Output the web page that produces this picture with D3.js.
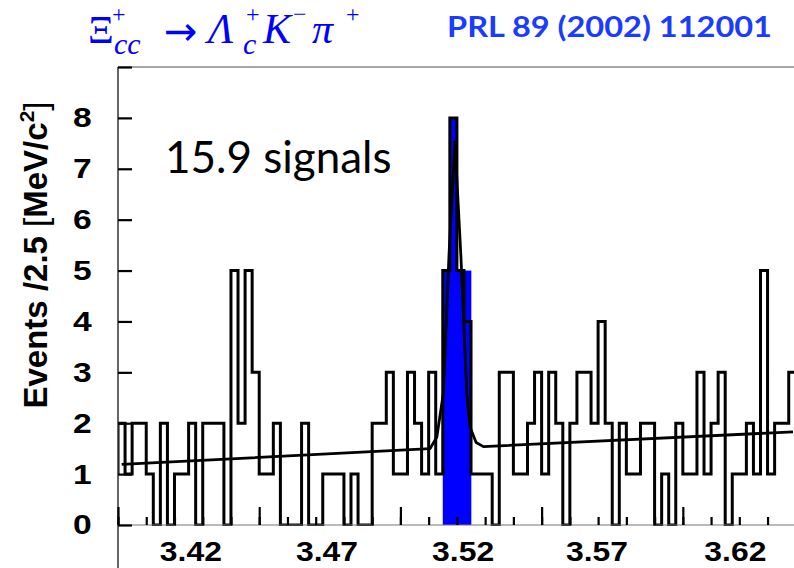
<!DOCTYPE html>
<html>
<head>
<meta charset="utf-8">
<script src="https://cdn.jsdelivr.net/npm/d3@7"></script>
<style>
  body { margin: 0; background: #fff; }
  svg { display: block; }
</style>
</head>
<body>
<script>
const width = 794, height = 568;

// events per 2.5 MeV bin, first bin starts at 3.400 GeV
const binStart = 3.40;
const binWidth = 0.0025;
const countBefore = 1; // bin just left of the frame (cut off)
const counts = [
  2, 1, 2, 2, 1, 0, 2, 0, 1, 1,
  2, 0, 2, 2, 2, 0, 5, 2, 5, 3,
  1, 1, 2, 0, 0, 0, 2, 0, 0, 1,
  1, 1, 0, 1, 0, 0, 2, 2, 3, 1,
  1, 3, 2, 1, 3, 1, 5, 8, 5, 4,
  1, 1, 1, 0, 3, 3, 1, 1, 2, 3,
  1, 3, 2, 0, 2, 3, 3, 2, 4, 2,
  0, 2, 1, 1, 2, 2, 0, 1, 0, 2,
  1, 1, 3, 1, 2, 3, 0, 1, 1, 2,
  1, 5, 1, 2, 2, 3
];

// signal region (blue)
const signalStart = 3.515;
const signalCounts = [5, 8, 5, 5];

// fit curve
const fitMass   = [3.4013, 3.5105, 3.5129, 3.5152, 3.5172, 3.5193, 3.5214, 3.5235, 3.5246, 3.5268, 3.5294, 3.6390];
const fitEvents = [1.19,   1.50,   1.73,   2.59,   5.30,   7.53,   5.30,   2.59,   1.93,   1.62,   1.54,   1.83];

const yTickValues = [0, 1, 2, 3, 4, 5, 6, 7, 8, 9];
const yTickLabels = ["0", "1", "2", "3", "4", "5", "6", "7", "8", ""];
// the slide's x labels sit a bit off the frame ticks
const xLabels   = ["3.42", "3.47", "3.52", "3.57", "3.62"];
const xLabelPos = [3.4258, 3.4740, 3.5222, 3.5696, 3.6186];

const blue = "#0000ff";
const textBlue = "#1a3cff";

const x = d3.scaleLinear().domain([3.40, 3.64]).range([118, 795.8]);
const y = d3.scaleLinear().domain([0, 9]).range([525, 67]);

const svg = d3.select("body").append("svg")
  .attr("width", width)
  .attr("height", height);

svg.append("rect").attr("width", width).attr("height", height).attr("fill", "#fff");

svg.append("clipPath").attr("id", "frame")
  .append("rect")
  .attr("x", 118).attr("y", 60)
  .attr("width", width - 118).attr("height", 466);

const plot = svg.append("g").attr("clip-path", "url(#frame)");

// blue signal bins
plot.selectAll("rect.signal")
  .data(signalCounts)
  .enter().append("rect")
  .attr("class", "signal")
  .attr("x", (d, i) => x(signalStart + i * binWidth))
  .attr("y", d => y(d))
  .attr("width", x(signalStart + binWidth) - x(signalStart) + 0.3)
  .attr("height", d => y(0) - y(d))
  .attr("fill", blue);

// histogram outline
const histPts = [[binStart, countBefore]]
  .concat(counts.map((c, i) => [binStart + i * binWidth, c]))
  .concat([[binStart + counts.length * binWidth, counts[counts.length - 1]]]);

const histLine = d3.line()
  .x(d => x(d[0]))
  .y(d => y(d[1]))
  .curve(d3.curveStepAfter);

plot.append("path")
  .datum(histPts)
  .attr("d", histLine)
  .attr("fill", "none")
  .attr("stroke", "#000")
  .attr("stroke-width", 3)
  .attr("stroke-linejoin", "miter");

// fit
const fitLine = d3.line()
  .x(d => x(d[0]))
  .y(d => y(d[1]));

plot.append("path")
  .datum(fitMass.map((m, i) => [m, fitEvents[i]]))
  .attr("d", fitLine)
  .attr("fill", "none")
  .attr("stroke", "#000")
  .attr("stroke-width", 2.8)
  .attr("stroke-linejoin", "round");

// frame
svg.append("line")
  .attr("x1", 118).attr("x2", width)
  .attr("y1", y(9)).attr("y2", y(9))
  .attr("stroke", "#888").attr("stroke-width", 1.5);
svg.append("line")
  .attr("x1", 118).attr("x2", width)
  .attr("y1", y(0)).attr("y2", y(0))
  .attr("stroke", "#777").attr("stroke-width", 1.2);
svg.append("line")
  .attr("x1", 118).attr("x2", 118)
  .attr("y1", y(9)).attr("y2", height)
  .attr("stroke", "#333").attr("stroke-width", 1.5);

// y axis: ticks point into the frame
const yAxis = svg.append("g")
  .attr("transform", "translate(118,0)")
  .call(d3.axisLeft(y)
    .tickValues(yTickValues)
    .tickSizeInner(-14)
    .tickSizeOuter(0)
    .tickPadding(22)
    .tickFormat((d, i) => yTickLabels[i]));
yAxis.select(".domain").remove();
yAxis.selectAll(".tick line").attr("stroke", "#000").attr("stroke-width", 2.2);
yAxis.selectAll(".tick text")
  .attr("font-family", "'Liberation Sans', Arial, sans-serif")
  .attr("font-weight", "bold")
  .attr("font-size", 28)
  .attr("transform", "scale(1.2,1)")
  .attr("fill", "#000");

// x axis ticks point up
const xMinor = svg.append("g")
  .attr("transform", `translate(0,${y(0)})`)
  .call(d3.axisBottom(x).ticks(24).tickSize(-8).tickFormat(""));
const xMajor = svg.append("g")
  .attr("transform", `translate(0,${y(0)})`)
  .call(d3.axisBottom(x).ticks(5).tickSize(-18).tickFormat(""));
[xMinor, xMajor].forEach(g => {
  g.select(".domain").remove();
  g.selectAll(".tick line").attr("stroke", "#000").attr("stroke-width", 2.2);
});

svg.append("g")
  .selectAll("text")
  .data(xLabels)
  .enter().append("text")
  .attr("transform", (d, i) => `translate(${x(xLabelPos[i])},561) scale(1.14,1)`)
  .attr("text-anchor", "middle")
  .attr("font-family", "'Liberation Sans', Arial, sans-serif")
  .attr("font-weight", "bold")
  .attr("font-size", 28)
  .text(d => d);

// y title
const yTitle = svg.append("text")
  .attr("transform", `translate(47,255) rotate(-90)`)
  .attr("text-anchor", "middle")
  .attr("font-family", "'Liberation Sans', Arial, sans-serif")
  .attr("font-size", 33)
  .attr("fill", "#000");
yTitle.append("tspan").attr("font-weight", "bold").text("Events /2.5 ");
yTitle.append("tspan").text("[");
yTitle.append("tspan").attr("font-weight", "bold").text("MeV/c");
yTitle.append("tspan").attr("font-weight", "bold").attr("font-size", 21).attr("dy", -13).text("2");
yTitle.append("tspan").attr("dy", 13).text("]");

// annotation
svg.append("text")
  .attr("x", 165).attr("y", 173)
  .attr("font-family", "Lato, 'Open Sans', sans-serif")
  .attr("font-size", 44)
  .attr("fill", "#000")
  .text("15.9 signals");

// title pieces
const titleParts = [
  {t: "Ξ", x: 88,  y: 43, s: 40, it: false},
  {t: "+", x: 112, y: 22, s: 24, it: false},
  {t: "cc", x: 114, y: 54, s: 30, it: true},
  {t: "→", x: 164, y: 45, s: 40, it: false, f: "'DejaVu Sans', sans-serif"},
  {t: "Λ", x: 208, y: 43, s: 42, it: true},
  {t: "+", x: 246, y: 22, s: 24, it: false},
  {t: "c", x: 243, y: 54, s: 30, it: true},
  {t: "K", x: 263, y: 43, s: 42, it: true},
  {t: "−", x: 293, y: 22, s: 24, it: false},
  {t: "π", x: 312, y: 43, s: 42, it: true},
  {t: "+", x: 346, y: 22, s: 24, it: false}
];
svg.append("g")
  .selectAll("text")
  .data(titleParts)
  .enter().append("text")
  .attr("x", d => d.x).attr("y", d => d.y)
  .attr("font-family", d => d.f || "'Liberation Serif', 'DejaVu Serif', serif")
  .attr("font-size", d => d.s)
  .attr("font-style", d => d.it ? "italic" : "normal")
  .attr("fill", blue)
  .text(d => d.t);

svg.append("text")
  .attr("x", 447).attr("y", 37)
  .attr("font-family", "Lato, 'Open Sans', sans-serif")
  .attr("font-weight", "bold")
  .attr("font-size", 29)
  .attr("textLength", 325)
  .attr("lengthAdjust", "spacingAndGlyphs")
  .attr("fill", textBlue)
  .text("PRL 89 (2002) 112001");
</script>
</body>
</html>
